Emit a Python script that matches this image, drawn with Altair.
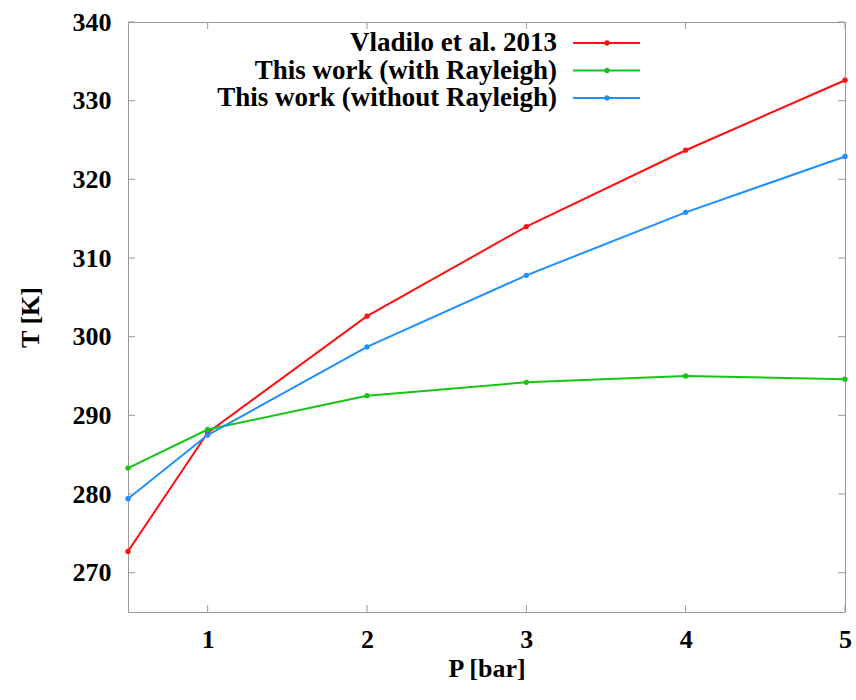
import altair as alt
import pandas as pd

# Pressure grid [bar] and surface temperatures [K]
pressure = [0.5, 1, 2, 3, 4, 5]
t_vladilo = [272.7, 287.8, 302.6, 314.0, 323.7, 332.6]
t_with_rayleigh = [283.3, 288.2, 292.5, 294.2, 295.0, 294.6]
t_without_rayleigh = [279.4, 287.5, 298.7, 307.8, 315.8, 322.9]

series_names = [
    "Vladilo et al. 2013",
    "This work (with Rayleigh)",
    "This work (without Rayleigh)",
]
series_colors = ["#ff1010", "#16c416", "#1e8fff"]

x_ticks = [1, 2, 3, 4, 5]
y_ticks = [270, 280, 290, 300, 310, 320, 330, 340]

FONT = "Liberation Serif"
W, H = 717, 590

rows = []
for name, temps in zip(series_names, [t_vladilo, t_with_rayleigh, t_without_rayleigh]):
    for p, t in zip(pressure, temps):
        rows.append({"P": p, "T": t, "series": name})
df = pd.DataFrame(rows)

x_scale = alt.Scale(domain=[0.5, 5], nice=False, zero=False)
y_scale = alt.Scale(domain=[265, 340], nice=False, zero=False)
color_scale = alt.Scale(domain=series_names, range=series_colors)

x_axis = alt.Axis(
    values=x_ticks,
    title="P [bar]",
    ticks=False,
    tickSize=0,
    domain=False,
    grid=False,
    labelPadding=14,
    labelFlush=False,
    titleX=W / 2,
    titleY=56,
    titleBaseline="middle",
)
y_axis = alt.Axis(
    values=y_ticks,
    title="T [K]",
    ticks=False,
    tickSize=0,
    domain=False,
    grid=False,
    labelPadding=17,
    labelFlush=False,
    titleX=-98,
    titleY=295,
    titleAngle=-90,
    titleAlign="center",
    titleBaseline="middle",
)

base = alt.Chart(df).encode(
    x=alt.X("P:Q", scale=x_scale, axis=x_axis),
    y=alt.Y("T:Q", scale=y_scale, axis=y_axis),
    color=alt.Color("series:N", scale=color_scale, legend=None),
    detail="series:N",
)

lines = base.mark_line(strokeWidth=2)
points = base.mark_circle(size=28, opacity=1)

# Inward tick marks on all four sides
xt = alt.Chart(pd.DataFrame({"P": x_ticks}))
yt = alt.Chart(pd.DataFrame({"T": y_ticks}))
tick_style = dict(color="#999999", strokeWidth=1)
x_bottom = xt.mark_rule(**tick_style).encode(
    x=alt.X("P:Q", scale=x_scale, axis=x_axis), y=alt.value(H), y2=alt.value(H - 7)
)
x_top = xt.mark_rule(**tick_style).encode(
    x=alt.X("P:Q", scale=x_scale, axis=x_axis), y=alt.value(0), y2=alt.value(7)
)
y_left = yt.mark_rule(**tick_style).encode(
    y=alt.Y("T:Q", scale=y_scale, axis=y_axis), x=alt.value(0), x2=alt.value(7)
)
y_right = yt.mark_rule(**tick_style).encode(
    y=alt.Y("T:Q", scale=y_scale, axis=y_axis), x=alt.value(W), x2=alt.value(W - 7)
)

# Legend: right-aligned labels with a line sample to their right
legend_layers = []
for i, (name, col) in enumerate(zip(series_names, series_colors)):
    ly = 21 + 27.5 * i
    legend_layers.append(
        alt.Chart(pd.DataFrame({"label": [name]}))
        .mark_text(
            align="right",
            baseline="middle",
            font=FONT,
            fontWeight="bold",
            fontSize=27,
            color="black",
        )
        .encode(x=alt.value(429), y=alt.value(ly), text="label:N")
    )
    legend_layers.append(
        alt.Chart(pd.DataFrame({"label": [name]}))
        .mark_rule(color=col, strokeWidth=2)
        .encode(x=alt.value(445), x2=alt.value(512), y=alt.value(ly))
    )
    legend_layers.append(
        alt.Chart(pd.DataFrame({"label": [name]}))
        .mark_circle(color=col, size=28, opacity=1)
        .encode(x=alt.value(479), y=alt.value(ly))
    )

chart = (
    alt.layer(lines, points, x_bottom, x_top, y_left, y_right, *legend_layers)
    .properties(
        width=W,
        height=H,
        autosize=alt.AutoSizeParams(type="none"),
        padding={"left": 128, "top": 22, "right": 11, "bottom": 88},
    )
    .configure(background="white")
    .configure_view(stroke="#999999", strokeWidth=1)
    .configure_axis(
        labelFont=FONT,
        labelFontWeight="bold",
        labelFontSize=26,
        labelColor="black",
        titleFont=FONT,
        titleFontWeight="bold",
        titleFontSize=26,
        titleColor="black",
    )
)

chart.save("out.html", embed_options={"renderer": "svg", "actions": False})
